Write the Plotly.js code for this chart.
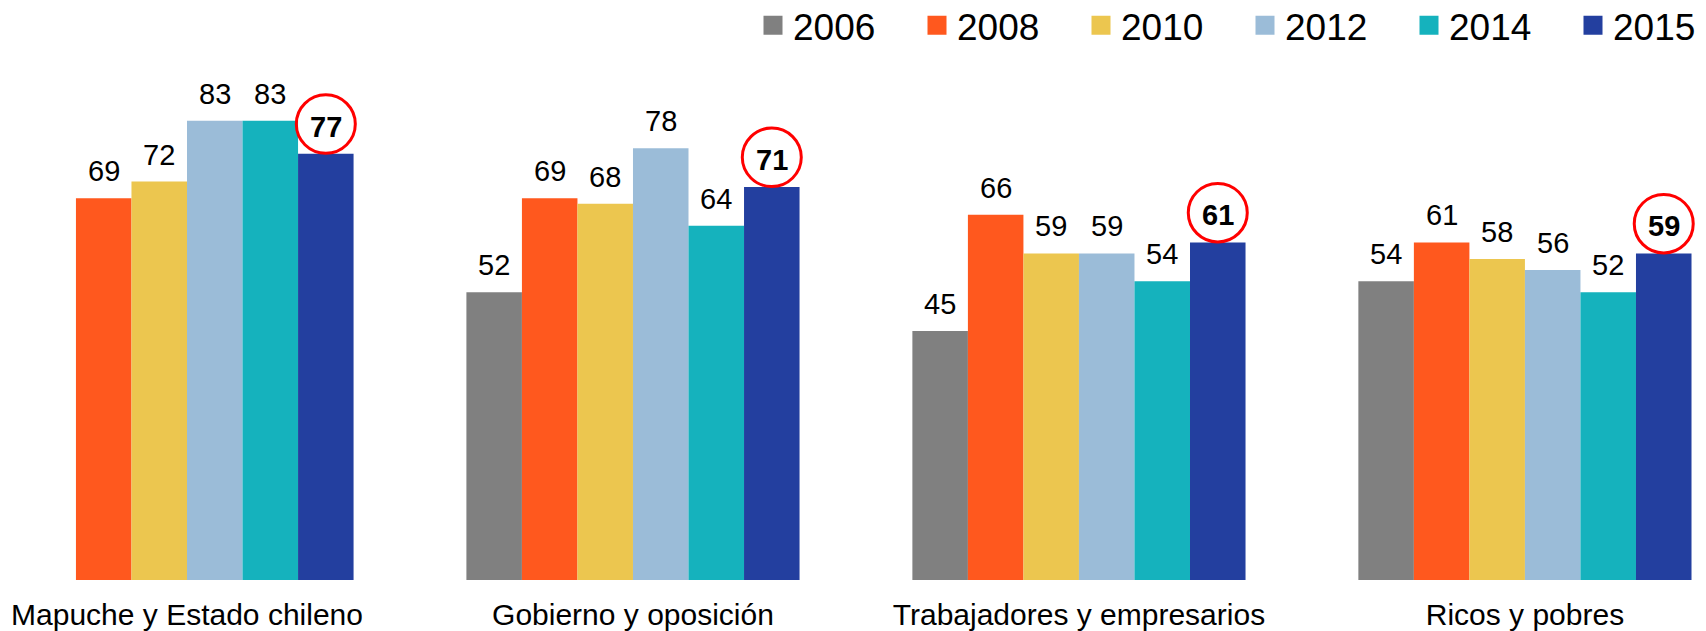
<!DOCTYPE html>
<html>
<head>
<meta charset="utf-8">
<script src="https://cdn.plot.ly/plotly-3.0.1.min.js"></script>
<style>
  html, body { margin: 0; padding: 0; background: #fff; }
  #chart { width: 1706px; height: 631px; }
</style>
</head>
<body>
<div id="chart"></div>
<script>
// Categories and series values
const categories = ['Mapuche y Estado chileno', 'Gobierno y oposición', 'Trabajadores y empresarios', 'Ricos y pobres'];
const years = ['2006', '2008', '2010', '2012', '2014', '2015'];
const v2006 = [null, 52, 45, 54];
const v2008 = [69, 69, 66, 61];
const v2010 = [72, 68, 59, 58];
const v2012 = [83, 78, 59, 56];
const v2014 = [83, 64, 54, 52];
const v2015 = [77, 71, 61, 59];
const colors = ['#808080', '#ff581e', '#ecc64f', '#9bbcd8', '#15b2bd', '#233f9f'];

const series = [v2006, v2008, v2010, v2012, v2014, v2015];
const bargap = 0.253;
const nBars = series.length;
const barW = (1 - bargap) / nBars;

// center of bar j in category i (category axis uses index positions)
function barCenter(i, j) {
  return i - (1 - bargap) / 2 + (j + 0.5) * barW;
}

const data = series.map(function(vals, j) {
  return {
    type: 'bar',
    name: years[j],
    x: categories,
    y: vals,
    marker: { color: colors[j], line: { width: 0 } },
    // last year sits in its own legend so the row does not wrap
    legend: j === nBars - 1 ? 'legend2' : 'legend',
    hoverinfo: 'x+y+name'
  };
});

// value labels above bars, last year in bold
const annotations = [];
series.forEach(function(vals, j) {
  vals.forEach(function(v, i) {
    if (v === null) return;
    const bold = j === nBars - 1;
    annotations.push({
      x: barCenter(i, j),
      y: v,
      xref: 'x',
      yref: 'y',
      text: bold ? '<b>' + v + '</b>' : String(v),
      showarrow: false,
      yanchor: 'middle',
      yshift: 27,
      font: { family: 'Liberation Sans, Arial, sans-serif', size: 29, color: '#000' }
    });
  });
});

// red circles round the last year's labels
const shapes = v2015.map(function(v, i) {
  return {
    type: 'circle',
    xref: 'x',
    yref: 'y',
    xsizemode: 'pixel',
    ysizemode: 'pixel',
    xanchor: barCenter(i, nBars - 1),
    yanchor: v,
    x0: -29.5,
    x1: 29.5,
    y0: 0.5,
    y1: 59,
    line: { color: '#ff0000', width: 3 }
  };
});

const legendCommon = {
  orientation: 'h',
  xanchor: 'left',
  y: 1.009,
  yanchor: 'top',
  font: { size: 37, color: '#000' },
  bgcolor: 'rgba(0,0,0,0)',
  traceorder: 'normal'
};

const legendLeft = 753;
const legendStep = 164;

const layout = {
  width: 1706,
  height: 631,
  margin: { l: 0, r: 0, t: 0, b: 51, autoexpand: false },
  paper_bgcolor: '#fff',
  plot_bgcolor: '#fff',
  barmode: 'group',
  bargap: bargap,
  bargroupgap: 0,
  font: { family: 'Liberation Sans, Arial, sans-serif', color: '#000' },
  xaxis: {
    type: 'category',
    range: [-0.4193, 3.406],
    showgrid: false,
    zeroline: false,
    showline: false,
    ticks: '',
    ticklabelstandoff: 14,
    tickfont: { size: 30, color: '#000' },
    fixedrange: true
  },
  yaxis: {
    range: [0, 104.8],
    showgrid: false,
    zeroline: false,
    showline: false,
    showticklabels: false,
    ticks: '',
    fixedrange: true
  },
  showlegend: true,
  legend: Object.assign({}, legendCommon, {
    x: legendLeft / 1706,
    entrywidth: legendStep - 45,
    entrywidthmode: 'pixels'
  }),
  legend2: Object.assign({}, legendCommon, {
    x: (legendLeft + 5 * legendStep) / 1706
  }),
  annotations: annotations,
  shapes: shapes
};

Plotly.newPlot('chart', data, layout, { displayModeBar: false, staticPlot: true }).then(function() {
  // enlarge legend swatches to match the reference squares
  document.querySelectorAll('.legendpoints path').forEach(function(p) {
    p.setAttribute('d', 'M9.5,9.5H-9.5V-9.5H9.5Z');
  });
});
</script>
</body>
</html>
